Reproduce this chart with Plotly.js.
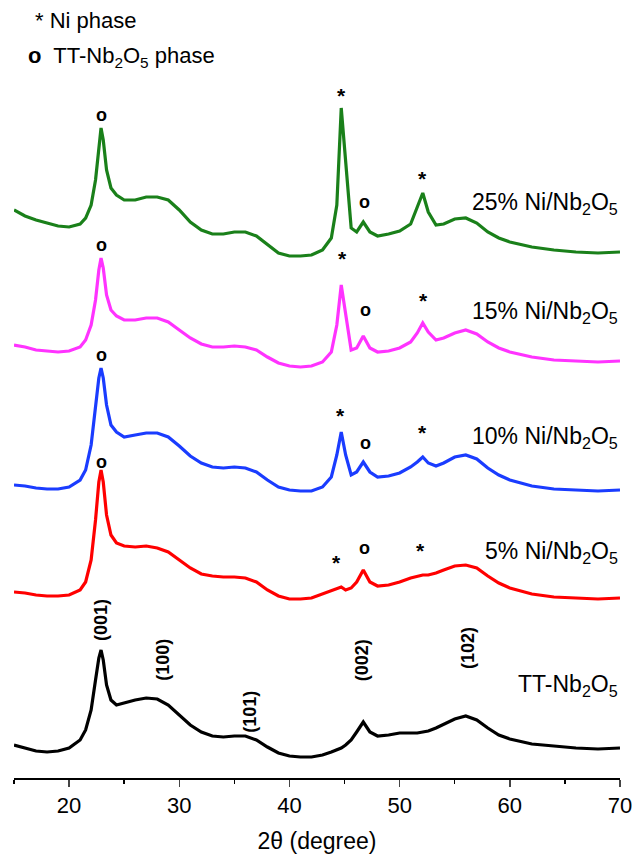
<!DOCTYPE html>
<html>
<head>
<meta charset="utf-8">
<script src="https://cdn.plot.ly/plotly-3.0.1.min.js"></script>
<style>html,body{margin:0;padding:0;background:#fff;}#chart{width:636px;height:855px;}</style>
</head>
<body>
<div id="chart"></div>
<script>
// 2-theta grid (degrees)
const twoTheta = [15,16,17,18,19,20,21,21.5,22,22.4,22.7,22.9,23.1,23.4,23.8,24.3,25,26,27,28,29,30,31,32,33,34,35,36,37,38,39,40,41,42,43,43.8,44.3,44.7,45.1,45.6,46.1,46.7,47.3,48,49,50,51,51.6,52.1,52.6,53.3,54,55,56,57,58,59,60,62,64,66,68,70];

// Intensities (a.u., relative to each pattern's own baseline)
const ttNb2O5 = [15,12,9,8,9,12,20,30,50,80,102,110,100,75,60,55,57,60,62,61,55,45,35,28,24,23,24,24,20,13,7,4,3,3,5,8,10,12,15,20,28,38,28,24,25,27,27,27,28,29,32,36,41,44,40,32,25,21,16,14,12,11,12];
const ni5 = [10,9,7,6,6,7,12,20,42,82,120,132,120,87,67,59,56,55,56,54,50,42,34,28,26,25,25,24,20,12,6,3,3,4,8,12,14,15,12,14,20,32,20,16,17,20,24,26,27,27,29,32,36,37,34,26,19,14,8,5,4,3,4];
const ni10 = [10,9,7,6,6,8,15,25,50,85,117,127,117,90,70,63,58,60,62,62,58,49,39,32,28,27,28,27,23,15,8,5,4,4,8,18,40,63,40,20,23,33,23,18,19,22,28,33,38,32,29,32,38,40,36,27,20,15,9,6,5,4,5];
const ni15 = [25,23,20,19,18,19,23,30,45,70,100,112,102,75,60,54,50,50,52,52,48,40,32,26,23,23,24,23,20,13,7,4,3,4,8,18,45,85,55,20,22,34,22,18,19,22,28,37,47,38,30,32,37,40,36,28,22,18,13,10,9,8,9];
const ni25 = [48,42,38,35,32,31,34,40,53,78,113,130,118,88,70,63,58,58,61,61,58,48,36,28,24,24,26,26,22,13,5,2,2,3,8,20,53,150,98,30,26,36,26,22,24,27,34,50,65,46,33,34,39,40,35,26,20,16,11,8,6,5,6];

const sampleNames = ["TT-Nb<sub>2</sub>O<sub>5</sub>","5% Ni/Nb<sub>2</sub>O<sub>5</sub>","10% Ni/Nb<sub>2</sub>O<sub>5</sub>","15% Ni/Nb<sub>2</sub>O<sub>5</sub>","25% Ni/Nb<sub>2</sub>O<sub>5</sub>"];
const seriesList = [ttNb2O5, ni5, ni10, ni15, ni25];
const offsets = [18, 176, 283, 408, 520];
const colors = ["#000000","#ff0000","#1a3cff","#ff33ff","#1a801a"];
const labelHeights = [93, 226, 341, 466, 575];

// Peak markers: [2theta, height, symbol]
const peakMarks = [
  [22.9,663,"o"],[44.7,683,"*"],[46.8,576,"o"],[52.1,600,"*"],
  [22.9,533,"o"],[44.8,520,"*"],[46.9,468,"o"],[52.2,478,"*"],
  [22.9,423,"o"],[44.6,363,"*"],[46.9,335,"o"],[52.1,346,"*"],
  [22.9,316,"o"],[44.3,216,"*"],[46.8,230,"o"],[51.9,228,"*"]
];
// Miller indices for TT-Nb2O5
const hkl = [["(001)",22.9,158],["(100)",28.5,118],["(101)",36.4,66],["(002)",46.6,118],["(102)",56.2,130]];

const font = "Liberation Sans, Arial, sans-serif";
const traces = seriesList.map((s, i) => ({
  x: twoTheta,
  y: s.map(v => v + offsets[i]),
  type: "scatter", mode: "lines",
  line: {color: colors[i], width: 3.2},
  name: sampleNames[i], hoverinfo: "skip"
}));

const annotations = [];
sampleNames.forEach((n, i) => annotations.push({
  x: 70, y: labelHeights[i], xref: "x", yref: "y", xanchor: "right", yanchor: "middle",
  text: n, showarrow: false, font: {family: font, size: 23, color: "#000"}
}));
peakMarks.forEach(p => annotations.push({
  x: p[0], y: p[1], xref: "x", yref: "y", xanchor: "center", yanchor: "middle",
  text: "<b>" + p[2] + "</b>", showarrow: false,
  font: {family: font, size: p[2] === "*" ? 21 : 18, color: "#000"}
}));
hkl.forEach(h => annotations.push({
  x: h[1], y: h[2], xref: "x", yref: "y", xanchor: "center", yanchor: "middle",
  text: "<b>" + h[0] + "</b>", showarrow: false, textangle: -90,
  font: {family: font, size: 18, color: "#000"}
}));
annotations.push({x: 0.031, y: 758, xref: "paper", yref: "y", xanchor: "left", yanchor: "middle",
  text: "* Ni phase", showarrow: false, font: {family: font, size: 22, color: "#000"}});
annotations.push({x: 0.019, y: 721, xref: "paper", yref: "y", xanchor: "left", yanchor: "middle",
  text: "<b>o</b>  TT-Nb<sub>2</sub>O<sub>5</sub> phase", showarrow: false, font: {family: font, size: 22, color: "#000"}});

const layout = {
  width: 636, height: 855,
  margin: {l: 14, r: 16, t: 0, b: 77},
  paper_bgcolor: "#fff", plot_bgcolor: "#fff",
  showlegend: false,
  xaxis: {
    range: [15, 70], tickvals: [20,30,40,50,60,70], ticks: "outside", ticklen: 7, tickwidth: 1.5,
    showline: true, linewidth: 1.5, linecolor: "#000", showgrid: false, zeroline: false,
    tickfont: {family: font, size: 22, color: "#000"},
    minor: {tickvals: [15,25,35,45,55,65], ticks: "outside", ticklen: 4, tickwidth: 1.5, tickcolor: "#000", showgrid: false},
    title: {text: "2θ (degree)", font: {family: font, size: 23, color: "#000"}, standoff: 16}
  },
  yaxis: {range: [0, 778], visible: false, showgrid: false, zeroline: false},
  annotations: annotations
};
Plotly.newPlot("chart", traces, layout, {staticPlot: true, displayModeBar: false});
</script>
</body>
</html>
